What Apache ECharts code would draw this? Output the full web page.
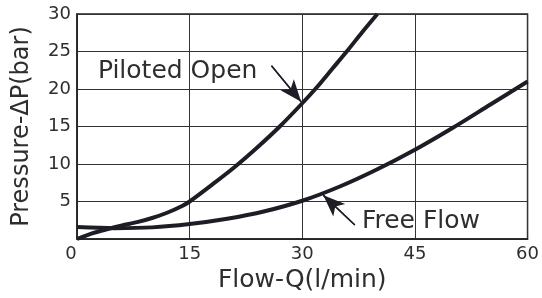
<!DOCTYPE html>
<html>
<head>
<meta charset="utf-8">
<script src="https://cdn.jsdelivr.net/npm/echarts@6/dist/echarts.min.js"></script>
<style>
html,body{margin:0;padding:0;background:#fff;}
#chart{width:542px;height:298px;}
</style>
</head>
<body>
<div id="chart"></div>
<script>
// Data
const pilotedFlow = [0, 2, 4, 6, 8, 10, 12, 14, 15, 18, 21, 24, 27, 30, 32, 34, 36, 38, 40];
const pilotedPressure = [0, 0.75, 1.3, 1.8, 2.25, 2.8, 3.5, 4.4, 5.0, 7.25, 9.6, 12.2, 15.0, 18.1, 20.3, 22.7, 25.1, 27.6, 30.0];
const freeFlow = [0, 5, 10, 15, 20, 25, 30, 35, 40, 45, 50, 55, 60];
const freePressure = [1.6, 1.45, 1.55, 2.0, 2.7, 3.7, 5.1, 7.0, 9.3, 11.9, 14.8, 17.9, 21.0];
const xTicks = [0, 15, 30, 45, 60];
const yTicks = [0, 5, 10, 15, 20, 25, 30];
const seriesNames = ['Piloted Open', 'Free Flow'];
// annotation anchors (data coords)
const pilotedLabelAt = [13.4, 22.4];
const pilotedArrowFrom = [25.9, 23.1];
const pilotedArrowTo = [29.85, 18.3];
const freeLabelAt = [45.8, 2.4];
const freeArrowFrom = [37.0, 1.86];
const freeArrowTo = [32.8, 5.85];

const FONT = 'DejaVu Sans';
const INK = '#1d1d26';
const TXT = '#2e2e2e';

function zip(a, b) { return a.map((v, i) => [v, b[i]]); }

function annot(labelAt, from, to, text) {
  return {
    markLine: {
      silent: true,
      symbol: ['none', 'arrow'],
      symbolSize: [13, 22],
      label: { show: false },
      lineStyle: { color: INK, width: 1.4, type: 'solid', opacity: 1 },
      data: [
        [{ coord: from }, { coord: to }],
        [{ coord: from, symbol: 'none' }, { coord: to, symbol: 'none' }]
      ]
    },
    markPoint: {
      silent: true,
      symbol: 'rect',
      symbolSize: 1,
      itemStyle: { color: 'rgba(0,0,0,0)' },
      label: { show: true, position: 'inside', formatter: text, fontFamily: FONT, fontSize: 25, color: TXT },
      data: [{ coord: labelAt }]
    }
  };
}

const chart = echarts.init(document.getElementById('chart'), null, { renderer: 'canvas' });
chart.setOption({
  animation: false,
  grid: { left: 77, right: 11, top: 14, bottom: 59, show: true, borderColor: '#222', borderWidth: 1.5 },
  xAxis: {
    type: 'value', min: xTicks[0], max: xTicks[xTicks.length - 1], interval: 15,
    name: 'Flow-Q(l/min)', nameLocation: 'middle', nameGap: 27,
    nameTextStyle: { fontFamily: FONT, fontSize: 25, color: TXT },
    axisLine: { show: true, lineStyle: { color: '#222', width: 1.5 } },
    axisTick: { show: false },
    axisLabel: {
      fontFamily: FONT, fontSize: 18, color: TXT, margin: 6,
      formatter: v => v === 0 ? '{z|0}' : String(v),
      rich: { z: { fontFamily: FONT, fontSize: 18, color: TXT, padding: [0, 12, 0, 0] } }
    },
    splitLine: { show: true, lineStyle: { color: '#333', width: 1 } }
  },
  yAxis: {
    type: 'value', min: yTicks[0], max: yTicks[yTicks.length - 1], interval: 5,
    name: 'Pressure-ΔP(bar)', nameLocation: 'middle', nameGap: 43,
    nameTextStyle: { fontFamily: FONT, fontSize: 24, color: TXT },
    axisLine: { show: true, lineStyle: { color: '#222', width: 1.5 } },
    axisTick: { show: false },
    axisLabel: { fontFamily: FONT, fontSize: 18, color: TXT, margin: 6, showMinLabel: false },
    splitLine: { show: true, lineStyle: { color: '#333', width: 1 } }
  },
  series: [
    Object.assign({
      name: seriesNames[0], type: 'line', data: zip(pilotedFlow, pilotedPressure),
      smooth: 0.3, symbol: 'none', lineStyle: { color: INK, width: 4 }, z: 3
    }, annot(pilotedLabelAt, pilotedArrowFrom, pilotedArrowTo, seriesNames[0])),
    Object.assign({
      name: seriesNames[1], type: 'line', data: zip(freeFlow, freePressure),
      smooth: 0.3, symbol: 'none', lineStyle: { color: INK, width: 4 }, z: 3
    }, annot(freeLabelAt, freeArrowFrom, freeArrowTo, seriesNames[1]))
  ]
});
</script>
</body>
</html>
